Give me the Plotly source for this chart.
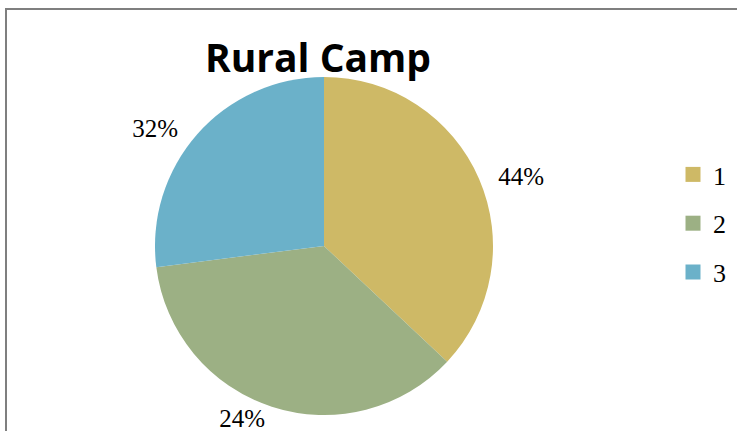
import plotly.graph_objects as go

categories = ["1", "2", "3"]
slice_values = [37, 36, 27]          # slice sizes as drawn
label_texts = ["&nbsp;&nbsp;44%", "24%", "32%&nbsp;&nbsp;"]  # data labels as printed
colors = ["#CEB966", "#9CB084", "#6BB1C9"]

W, H = 737, 431

fig = go.Figure()
fig.add_trace(go.Pie(
    labels=categories, values=slice_values, text=label_texts,
    textinfo="text", textposition="outside", sort=False, direction="clockwise",
    marker=dict(colors=colors, line=dict(width=0)),
    textfont=dict(family="Liberation Serif", size=25, color="black"),
    showlegend=False, hoverinfo="none",
    domain=dict(x=[155 / W, 493 / W], y=[1 - 415 / H, 1 - 77 / H]),
))
for cat, col in zip(categories, colors):
    fig.add_trace(go.Scatter(
        x=[None], y=[None], mode="markers", name=cat, legendgroup=cat,
        marker=dict(symbol="square", size=15, color=col),
    ))

fig.update_layout(
    width=W, height=H, margin=dict(l=0, r=0, t=0, b=0, autoexpand=False),
    paper_bgcolor="white", plot_bgcolor="white",
    xaxis=dict(visible=False), yaxis=dict(visible=False),
    title=dict(text="<b>Rural Camp</b>", x=318 / W, xanchor="center",
               y=1 - 58 / H, yanchor="middle",
               font=dict(family="Open Sans", size=39, color="black")),
    legend=dict(x=673 / W, xanchor="left", y=1 - 151 / H, yanchor="top",
                font=dict(family="Liberation Serif", size=26, color="black"),
                tracegroupgap=12, bgcolor="rgba(0,0,0,0)"),
    shapes=[dict(type="rect", xref="paper", yref="paper",
                 x0=6 / W, x1=1.02, y0=-0.05, y1=1 - 9 / H,
                 line=dict(color="#7f7f7f", width=2))],
)
fig.write_html("out.html", config={"displayModeBar": False},
               post_script="document.body.style.margin='0';")
